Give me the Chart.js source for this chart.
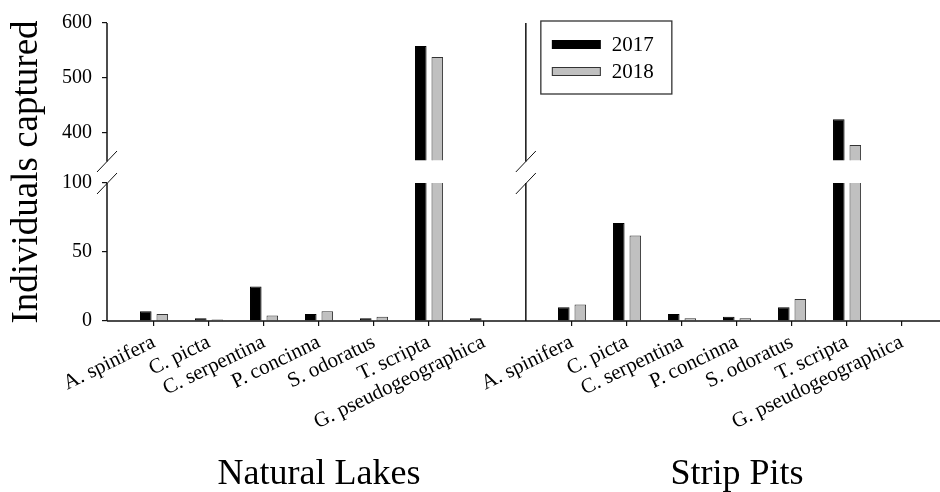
<!DOCTYPE html>
<html>
<head>
<meta charset="utf-8">
<script src="https://cdn.jsdelivr.net/npm/chart.js@4.4.1/dist/chart.umd.min.js"></script>
<style>
  html, body { margin: 0; padding: 0; background: #fff; }
  #wrap { position: relative; width: 940px; height: 492px; }
</style>
</head>
<body>
<div id="wrap"><canvas id="chart"></canvas></div>
<script>
// species, same order in both habitats
const species = ['A. spinifera', 'C. picta', 'C. serpentina', 'P. concinna', 'S. odoratus', 'T. scripta', 'G. pseudogeographica'];
const habitats = ['Natural Lakes', 'Strip Pits'];
const years = ['2017', '2018'];

// individuals captured
const lakes2017 = [7, 2, 25, 5, 2, 558, 2];
const lakes2018 = [5, 1, 4, 7, 3, 538, 0];
const pits2017 = [10, 71, 5, 3, 10, 425, 0];
const pits2018 = [12, 62, 2, 2, 16, 378, 0];

// y axis is broken between 100 and 350
const lowTicks = [0, 50, 100];
const highTicks = [400, 500, 600];

const LOW_MAX = 100, HIGH_MIN = 350, HIGH_MAX = 600;
const LOW_FRAC = 138 / 298, HIGH_FRAC = 137.5 / 298;  // share of plot height for each segment
const PITS_SHIFT = 7.6;   // strip pits panel starts further right
const DIVIDER = 6.76;     // second vertical axis
const X_MIN = -0.855, X_MAX = 14.29;

const fillColors = ['#000000', '#c0c0c0'];
const edgeColors = ['#000000', '#333333'];
const serif = '"Liberation Serif", "Times New Roman", serif';

function lowPart(vals, shift) {
  return vals.map((v, i) => ({ x: i + shift, y: Math.min(v, LOW_MAX) }));
}
function highPart(vals, shift) {
  return vals.map((v, i) => ({ x: i + shift, y: v })).filter(p => p.y > HIGH_MIN);
}

const byYear = [[lakes2017, pits2017], [lakes2018, pits2018]];
const datasets = [];
years.forEach((yr, k) => {
  const [lk, pt] = byYear[k];
  datasets.push({
    label: yr,
    data: lowPart(lk, 0).concat(lowPart(pt, PITS_SHIFT)),
    yAxisID: 'yLow',
    stack: yr,
    backgroundColor: fillColors[k],
    borderColor: edgeColors[k],
    // bars cut by the break have no top edge
    borderWidth: c => (c.raw && c.raw.y >= LOW_MAX) ? { left: 1, right: 1, top: 0, bottom: 0 } : 1
  });
  datasets.push({
    label: yr + ' (upper)',
    data: highPart(lk, 0).concat(highPart(pt, PITS_SHIFT)),
    yAxisID: 'yHigh',
    base: HIGH_MIN,
    stack: yr,
    backgroundColor: fillColors[k],
    borderColor: edgeColors[k],
    borderWidth: 1
  });
});

const tickPositions = species.map((s, i) => i).concat(species.map((s, i) => i + PITS_SHIFT));
const tickNames = species.concat(species);

function line(ctx, x1, y1, x2, y2) {
  ctx.beginPath();
  ctx.moveTo(x1, y1);
  ctx.lineTo(x2, y2);
  ctx.stroke();
}

// axis lines with break marks, panel names and legend box
const decor = {
  id: 'decor',
  afterLayout(chart) {
    // upper scale has zero width; widen it so its labels are not clipped
    chart.scales.yHigh.left = 0;
  },
  afterDraw(chart) {
    const { ctx, chartArea: a, scales: { x, yLow, yHigh } } = chart;
    const top = yHigh.getPixelForValue(HIGH_MAX);
    const breakHi = yHigh.getPixelForValue(HIGH_MIN);
    const breakLo = yLow.getPixelForValue(LOW_MAX);
    const bottom = yLow.getPixelForValue(0);
    const divX = x.getPixelForValue(DIVIDER);
    ctx.save();
    ctx.strokeStyle = '#111';
    ctx.lineWidth = 1.5;
    line(ctx, a.left, bottom, a.right, bottom);
    [a.left, divX].forEach(ax => {
      ctx.lineWidth = 1.5;
      line(ctx, ax, top, ax, breakHi + 1);
      line(ctx, ax, breakLo, ax, bottom);
      ctx.lineWidth = 1;
      line(ctx, ax - 10, breakHi + 11.5, ax + 10, breakHi - 9.5);
      line(ctx, ax - 10, breakLo + 11, ax + 10, breakLo - 10);
    });

    ctx.fillStyle = '#000';
    ctx.font = '36px ' + serif;
    ctx.textAlign = 'center';
    ctx.textBaseline = 'alphabetic';
    ctx.fillText(habitats[0], x.getPixelForValue(3), 484);
    ctx.fillText(habitats[1], x.getPixelForValue(3 + PITS_SHIFT), 484);

    // legend
    const lx = divX + 15, ly = top - 2;
    ctx.lineWidth = 1.3;
    ctx.strokeStyle = '#333';
    ctx.strokeRect(lx, ly, 131, 73);
    ctx.font = '21px ' + serif;
    ctx.textAlign = 'left';
    ctx.textBaseline = 'middle';
    years.forEach((yr, k) => {
      const sy = ly + 19 + k * 27;
      ctx.fillStyle = fillColors[k];
      ctx.fillRect(lx + 11, sy, 49, 9);
      if (k > 0) {
        ctx.lineWidth = 1;
        ctx.strokeStyle = edgeColors[k];
        ctx.strokeRect(lx + 11.5, sy + 0.5, 48, 8);
      }
      ctx.fillStyle = '#000';
      ctx.fillText(yr, lx + 71, sy + 5);
    });
    ctx.restore();
  }
};

new Chart(document.getElementById('chart'), {
  type: 'bar',
  data: { datasets },
  options: {
    responsive: true,
    maintainAspectRatio: false,
    animation: false,
    layout: { padding: { top: 23, left: 0, right: 0, bottom: 0 } },
    datasets: { bar: { categoryPercentage: 0.6, barPercentage: 0.7 } },
    plugins: { legend: { display: false }, tooltip: { enabled: false } },
    scales: {
      x: {
        type: 'linear',
        min: X_MIN,
        max: X_MAX,
        offset: false,
        afterBuildTicks: s => { s.ticks = tickPositions.map(v => ({ value: v })); },
        afterFit: s => { s.height = 171; s.paddingLeft = 0; s.paddingRight = 0; },
        grid: { offset: false, drawOnChartArea: false, color: '#111', tickLength: 5, lineWidth: 1.2 },
        border: { display: false },
        ticks: {
          autoSkip: false,
          minRotation: 26,
          maxRotation: 26,
          padding: 4,
          color: '#000',
          font: { family: serif, size: 21 },
          callback: (v, i) => tickNames[i]
        }
      },
      yHigh: {
        type: 'linear',
        position: 'left',
        weight: 0,
        stacked: false,
        min: HIGH_MAX - (HIGH_MAX - HIGH_MIN) / HIGH_FRAC,
        max: HIGH_MAX,
        afterBuildTicks: s => { s.ticks = highTicks.map(v => ({ value: v })); },
        afterFit: s => { s.width = 0; },
        grid: { drawOnChartArea: false, color: '#111', tickLength: 5, lineWidth: 1.2 },
        border: { display: false },
        ticks: { padding: 10, color: '#000', font: { family: serif, size: 20 } }
      },
      yLow: {
        type: 'linear',
        position: 'left',
        weight: 1,
        stacked: false,
        min: 0,
        max: LOW_MAX / LOW_FRAC,
        afterBuildTicks: s => { s.ticks = lowTicks.map(v => ({ value: v })); },
        afterFit: s => { s.width = 107; },
        grid: { drawOnChartArea: false, color: '#111', tickLength: 5, lineWidth: 1.2 },
        border: { display: false },
        title: {
          display: true,
          text: 'Individuals captured',
          color: '#000',
          font: { family: serif, size: 37 },
          padding: { top: 5, bottom: 0 }
        },
        ticks: { padding: 10, color: '#000', font: { family: serif, size: 20 } }
      }
    }
  },
  plugins: [decor]
});
</script>
</body>
</html>
